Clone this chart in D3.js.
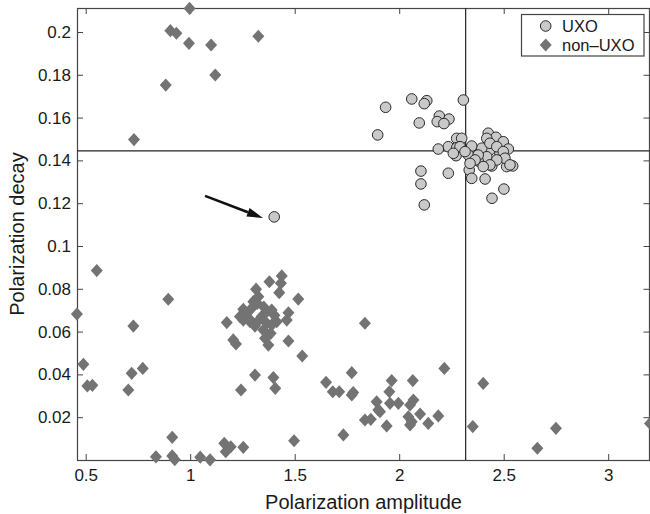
<!DOCTYPE html>
<html>
<head>
<meta charset="utf-8">
<script src="https://cdn.jsdelivr.net/npm/d3@7"></script>
<style>
  html, body { margin: 0; padding: 0; background: #fff; }
  svg { display: block; font-family: "Liberation Sans", Arial, Helvetica, sans-serif; }
</style>
</head>
<body>
<svg id="chart" width="650" height="514"></svg>
<script>
// UXO targets (circles)
const uxoX = [1.935, 1.897, 2.060, 2.132, 2.120, 2.307, 2.096, 2.192, 2.238, 2.182, 2.214,
  2.426, 2.463, 2.498, 2.522, 2.434, 2.482, 2.395, 2.419, 2.378, 2.443, 2.514, 2.543,
  2.335, 2.347, 2.411, 2.501, 2.444, 2.275, 2.235, 2.275, 2.347, 2.187, 2.272, 2.331,
  2.378, 2.235, 2.104, 2.104, 2.120, 2.419, 2.434, 2.467, 2.498, 2.506, 2.467, 2.434,
  2.402, 2.363, 2.339, 2.299, 2.291, 2.315, 2.259, 2.530, 1.402];
const uxoY = [0.1648, 0.1519, 0.1687, 0.1679, 0.1665, 0.1682, 0.1575, 0.1607, 0.1593, 0.1581, 0.1572,
  0.1527, 0.1508, 0.1487, 0.1453, 0.1449, 0.1433, 0.1457, 0.1417, 0.1397, 0.1374, 0.1371, 0.1374,
  0.1355, 0.1316, 0.1313, 0.1266, 0.1223, 0.1503, 0.1464, 0.1459, 0.1467, 0.1453, 0.1422, 0.1425,
  0.1425, 0.1340, 0.1350, 0.1290, 0.1192, 0.1503, 0.1480, 0.1464, 0.1441, 0.1410, 0.1402, 0.1379,
  0.1371, 0.1402, 0.1386, 0.1503, 0.1464, 0.1441, 0.1433, 0.1379, 0.1136];

// non-UXO items (diamonds)
const nonUxoX = [
  0.997, 0.905, 0.934, 0.994, 1.100, 1.326, 1.120, 0.883, 0.731,
  0.553, 0.458, 0.895, 0.728, 0.489, 0.508, 0.532, 0.720, 0.773, 0.704,
  0.836, 0.914, 0.914, 0.926, 1.048, 1.095, 1.163, 1.170, 1.194, 1.254, 1.497,
  1.438, 1.434, 1.379, 1.426, 1.517, 1.315, 1.326, 1.302, 1.254, 1.175, 1.206, 1.219,
  1.470, 1.470, 1.462, 1.536, 1.310, 1.398, 1.407, 1.243, 1.374, 1.358,
  1.270, 1.286, 1.310, 1.342, 1.366, 1.390, 1.366, 1.390, 1.414, 1.350, 1.254, 1.238,
  1.294, 1.321, 1.385, 1.282, 1.330, 1.403, 1.352,
  1.650, 1.682, 1.713, 1.773, 1.773, 1.780, 1.733, 1.836, 1.864, 1.892, 1.900, 1.908,
  1.940, 1.953, 1.964, 1.956, 1.996, 2.065, 2.068, 2.052, 2.044, 2.060, 2.052, 2.100,
  2.139, 2.187, 2.216, 2.352, 2.402, 2.661, 2.750, 3.200, 1.836];
const nonUxoY = [
  0.2110, 0.2006, 0.1994, 0.1947, 0.1939, 0.1980, 0.1799, 0.1752, 0.1497,
  0.0885, 0.0682, 0.0751, 0.0626, 0.0447, 0.0346, 0.0349, 0.0405, 0.0428, 0.0327,
  0.0015, 0.0106, 0.0019, 0.0002, 0.0013, 0.0001, 0.0078, 0.0039, 0.0062, 0.0059, 0.0090,
  0.0860, 0.0826, 0.0833, 0.0782, 0.0752, 0.0798, 0.0763, 0.0740, 0.0704, 0.0642, 0.0561, 0.0542,
  0.0556, 0.0688, 0.0654, 0.0486, 0.0397, 0.0385, 0.0335, 0.0327, 0.0537, 0.0569,
  0.0685, 0.0646, 0.0626, 0.0670, 0.0693, 0.0701, 0.0639, 0.0631, 0.0646, 0.0607, 0.0654, 0.0670,
  0.0709, 0.0732, 0.0592, 0.0660, 0.0655, 0.0676, 0.0715,
  0.0363, 0.0319, 0.0319, 0.0408, 0.0304, 0.0315, 0.0117, 0.0187, 0.0190, 0.0272, 0.0234, 0.0226,
  0.0159, 0.0319, 0.0371, 0.0265, 0.0265, 0.0371, 0.0280, 0.0257, 0.0202, 0.0179, 0.0164, 0.0215,
  0.0171, 0.0206, 0.0428, 0.0156, 0.0358, 0.0055, 0.0148, 0.0171, 0.0639];

// Decision thresholds
const thresholdX = [2.318];
const thresholdY = [0.1444];

// Annotation arrow pointing at the misclassified UXO: [x, y] start and end
const arrowFrom = [1.071, 0.1234];
const arrowTo = [1.348, 0.1131];

// Axis ticks
const xTicks = [0.5, 1, 1.5, 2, 2.5, 3];
const xTickLabels = ["0.5", "1", "1.5", "2", "2.5", "3"];
const yTicks = [0.02, 0.04, 0.06, 0.08, 0.1, 0.12, 0.14, 0.16, 0.18, 0.2];
const yTickLabels = ["0.02", "0.04", "0.06", "0.08", "0.1", "0.12", "0.14", "0.16", "0.18", "0.2"];

const seriesNames = ["UXO", "non\u2013UXO"];

const svg = d3.select("#chart");
const plotLeft = 77, plotRight = 649.5, plotTop = 8, plotBottom = 460;

const x = d3.scaleLinear().domain([0.4584, 3.2]).range([plotLeft, 650]);
const y = d3.scaleLinear().domain([0, 0.2112]).range([plotBottom, plotTop]);

const axisColor = "#444";
const textColor = "#1a1a1a";

function styleAxis(g) {
  g.select(".domain").remove();
  g.selectAll(".tick line").attr("stroke", axisColor);
  g.selectAll(".tick text").attr("fill", textColor).style("font-size", "17px");
}

svg.append("g").attr("transform", `translate(0,${plotBottom})`)
  .call(d3.axisBottom(x).tickValues(xTicks).tickFormat((d, i) => xTickLabels[i]).tickSize(-6).tickPadding(9))
  .call(styleAxis);
svg.append("g").attr("transform", `translate(0,${plotTop})`)
  .call(d3.axisTop(x).tickValues(xTicks).tickFormat("").tickSize(-6))
  .call(styleAxis);
svg.append("g").attr("transform", `translate(${plotLeft},0)`)
  .call(d3.axisLeft(y).tickValues(yTicks).tickFormat((d, i) => yTickLabels[i]).tickSize(-6).tickPadding(6))
  .call(styleAxis);
svg.append("g").attr("transform", `translate(${plotRight},0)`)
  .call(d3.axisRight(y).tickValues(yTicks).tickFormat("").tickSize(-6))
  .call(styleAxis);

// Plot frame
svg.append("rect")
  .attr("x", plotLeft + 0.5).attr("y", plotTop + 0.5)
  .attr("width", plotRight - plotLeft - 0.5).attr("height", plotBottom - plotTop)
  .attr("fill", "none").attr("stroke", axisColor).attr("stroke-width", 1.2);

// Threshold lines
svg.selectAll(".vthr").data(thresholdX).enter().append("line")
  .attr("x1", d => x(d)).attr("x2", d => x(d))
  .attr("y1", plotTop).attr("y2", plotBottom)
  .attr("stroke", "#222").attr("stroke-width", 1.2);
svg.selectAll(".hthr").data(thresholdY).enter().append("line")
  .attr("x1", plotLeft).attr("x2", plotRight)
  .attr("y1", d => y(d)).attr("y2", d => y(d))
  .attr("stroke", "#222").attr("stroke-width", 1.2);

const diamond = "M0,-6.6L6,0L0,6.6L-6,0Z";

// non-UXO diamonds
svg.append("g").selectAll("path")
  .data(nonUxoX.map((v, i) => [v, nonUxoY[i]]))
  .enter().append("path")
  .attr("d", diamond)
  .attr("transform", d => `translate(${x(d[0])},${y(d[1])})`)
  .attr("fill", "#737373");

// UXO circles
svg.append("g").selectAll("circle")
  .data(uxoX.map((v, i) => [v, uxoY[i]]))
  .enter().append("circle")
  .attr("cx", d => x(d[0])).attr("cy", d => y(d[1]))
  .attr("r", 5.3)
  .attr("fill", "#c9c9c9").attr("stroke", "#2a2a2a").attr("stroke-width", 1);

// Arrow
{
  const x0 = x(arrowFrom[0]), y0 = y(arrowFrom[1]);
  const x1 = x(arrowTo[0]), y1 = y(arrowTo[1]);
  const ang = Math.atan2(y1 - y0, x1 - x0);
  const headLen = 16, headHalf = 4.5;
  const bx = x1 - headLen * Math.cos(ang), by = y1 - headLen * Math.sin(ang);
  svg.append("line")
    .attr("x1", x0).attr("y1", y0).attr("x2", bx).attr("y2", by)
    .attr("stroke", "#111").attr("stroke-width", 2.6);
  const px = -Math.sin(ang) * headHalf, py = Math.cos(ang) * headHalf;
  svg.append("path")
    .attr("d", `M${x1},${y1}L${bx + px},${by + py}L${bx - px},${by - py}Z`)
    .attr("fill", "#111");
}

// Axis titles
svg.append("text")
  .attr("x", (plotLeft + 650) / 2).attr("y", 509)
  .attr("text-anchor", "middle")
  .attr("fill", textColor).style("font-size", "20px")
  .text("Polarization amplitude");
svg.append("text")
  .attr("transform", `translate(24,${(plotTop + plotBottom) / 2}) rotate(-90)`)
  .attr("text-anchor", "middle")
  .attr("fill", textColor).style("font-size", "20px")
  .text("Polarization decay");

// Legend
const legend = svg.append("g");
legend.append("rect")
  .attr("x", 521.5).attr("y", 14.5).attr("width", 122.5).attr("height", 41.5)
  .attr("fill", "#fff").attr("stroke", axisColor).attr("stroke-width", 1.2);
legend.append("circle")
  .attr("cx", 545.7).attr("cy", 26).attr("r", 5.3)
  .attr("fill", "#c9c9c9").attr("stroke", "#2a2a2a");
legend.append("path")
  .attr("d", diamond).attr("transform", "translate(545.7,45)").attr("fill", "#737373");
legend.selectAll("text").data(seriesNames).enter().append("text")
  .attr("x", 562).attr("y", (d, i) => 32 + i * 19)
  .attr("fill", textColor).style("font-size", "16.5px")
  .text(d => d);
</script>
</body>
</html>
